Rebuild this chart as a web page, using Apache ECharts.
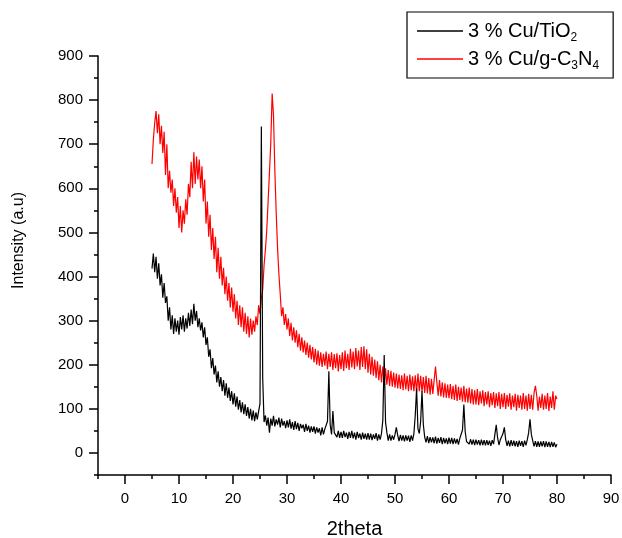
<!DOCTYPE html>
<html>
<head>
<meta charset="utf-8">
<script src="https://cdn.jsdelivr.net/npm/echarts@6/dist/echarts.min.js"></script>
<style>html,body{margin:0;padding:0;background:#fff;}#chart{width:622px;height:538px;}</style>
</head>
<body>
<div id="chart"></div>
<script>
// 2theta sampling of the scans (degrees)
const twoThetaStart = 5;
const twoThetaStep = 0.25;

// 3 % Cu/TiO2 intensities (a.u), one value per step from 5 to 80
const cuTiO2 = [
  418, 452, 410, 445, 395, 430, 380, 405, 352, 385, 340, 355, 300, 330, 280, 312, 270, 305, 275, 300,
  268, 308, 280, 312, 275, 305, 282, 318, 288, 325, 292, 338, 300, 322, 285, 305, 278, 296, 262, 285,
  245, 262, 218, 235, 192, 215, 178, 198, 160, 185, 150, 172, 140, 165, 130, 158, 125, 148, 118, 140,
  110, 135, 105, 128, 98, 120, 92, 115, 88, 110, 84, 104, 78, 100, 74, 96, 72, 92, 76, 95,
  112, 740, 170, 70, 85, 62, 80, 46, 78, 62, 84, 60, 76, 64, 80, 58, 78, 62, 72, 56,
  74, 58, 76, 55, 70, 52, 72, 54, 68, 50, 66, 56, 64, 48, 66, 50, 62, 46, 60, 48,
  60, 44, 58, 46, 56, 40, 58, 42, 54, 58, 72, 185, 64, 42, 95, 46, 48, 36, 50, 34,
  48, 34, 50, 36, 46, 32, 48, 34, 50, 33, 46, 30, 48, 34, 44, 30, 46, 32, 44, 30,
  45, 30, 44, 29, 42, 32, 45, 28, 42, 30, 44, 75, 222, 70, 46, 28, 42, 28, 40, 30,
  42, 58, 40, 27, 41, 28, 40, 26, 40, 28, 39, 25, 40, 28, 44, 85, 146, 55, 44, 72,
  140, 64, 36, 24, 38, 22, 36, 24, 35, 22, 37, 21, 34, 23, 36, 20, 34, 22, 33, 20,
  35, 21, 34, 20, 33, 21, 32, 19, 33, 36, 52, 110, 48, 26, 30, 20, 31, 19, 30, 18,
  30, 19, 29, 17, 30, 18, 29, 17, 29, 18, 28, 16, 29, 20, 42, 64, 34, 18, 30, 32,
  44, 58, 30, 16, 28, 15, 29, 16, 28, 15, 27, 14, 28, 16, 27, 14, 28, 17, 30, 46,
  76, 42, 28, 15, 27, 14, 26, 14, 26, 15, 27, 13, 26, 14, 25, 13, 25, 14, 24, 13,
  20
];

// 3 % Cu/g-C3N4 intensities (a.u), one value per step from 5 to 80
const cuC3N4 = [
  655, 710, 748, 775, 725, 768, 700, 742, 680, 728, 630, 700, 600, 640, 590, 620, 560, 600, 545, 580,
  510, 560, 500, 550, 520, 575, 540, 610, 580, 660, 600, 682, 610, 672, 620, 665, 600, 650, 570, 620,
  520, 570, 490, 540, 460, 510, 440, 490, 410, 465, 395, 445, 380, 420, 360, 400, 345, 385, 330, 375,
  320, 360, 305, 345, 290, 335, 285, 330, 275, 318, 270, 310, 262, 305, 268, 300, 275, 310, 290, 335,
  315, 350, 370, 425, 460, 505, 570, 635, 705, 815, 765, 640, 545, 465, 405, 360, 310, 330, 290, 315,
  280, 305, 265, 295, 255, 285, 250, 278, 240, 270, 232, 262, 228, 255, 222, 250, 216, 245, 212, 240,
  205, 236, 200, 232, 198, 228, 195, 225, 198, 230, 190, 225, 195, 228, 188, 224, 192, 226, 185, 222,
  190, 228, 186, 232, 192, 225, 188, 236, 194, 230, 190, 238, 196, 232, 188, 240, 195, 242, 190, 235,
  182, 225, 178, 218, 175, 212, 170, 208, 165, 200, 160, 196, 158, 192, 155, 188, 152, 186, 150, 182,
  148, 180, 146, 178, 145, 176, 142, 180, 144, 175, 140, 178, 142, 174, 140, 176, 138, 180, 140, 175,
  138, 172, 136, 175, 135, 170, 132, 168, 134, 165, 196, 160, 130, 165, 128, 160, 126, 158, 125, 155,
  124, 156, 122, 152, 120, 155, 118, 150, 120, 148, 116, 152, 115, 146, 114, 148, 112, 145, 110, 142,
  110, 145, 108, 140, 112, 142, 106, 138, 110, 140, 104, 136, 108, 138, 102, 135, 106, 138, 100, 134,
  104, 136, 100, 132, 105, 135, 98, 130, 104, 134, 96, 132, 102, 130, 98, 136, 100, 130, 96, 134,
  100, 132, 98, 136, 152, 130, 96, 128, 102, 134, 98, 130, 100, 136, 95, 128, 102, 140, 98, 130,
  122
];

const xTickLabels = [0, 10, 20, 30, 40, 50, 60, 70, 80, 90];
const yTickLabels = [0, 100, 200, 300, 400, 500, 600, 700, 800, 900];
const seriesNames = ['3 % Cu/TiO2', '3 % Cu/g-C3N4'];

function pairs(vals) {
  return vals.map((v, i) => [twoThetaStart + i * twoThetaStep, v]);
}

const FONT = "'Liberation Sans', Arial, sans-serif";
const chart = echarts.init(document.getElementById('chart'), null, {renderer: 'canvas'});

chart.setOption({
  animation: false,
  backgroundColor: '#fff',
  textStyle: {fontFamily: FONT, color: '#000'},
  grid: {left: 98, right: 11, top: 56, bottom: 63, containLabel: false, outerBoundsMode: 'none'},
  legend: {
    orient: 'vertical',
    left: 407, top: 12,
    padding: [9, 14, 6, 10],
    borderColor: '#000', borderWidth: 1.2,
    icon: 'rect',
    itemWidth: 46, itemHeight: 1.4, itemGap: 5,
    data: seriesNames,
    textStyle: {
      fontFamily: FONT, fontSize: 20, color: '#000',
      rich: {
        sub: {fontFamily: FONT, fontSize: 12, color: '#000', padding: [14, 0, 0, 0]}
      }
    },
    formatter: function (name) {
      if (name === seriesNames[0]) return '3 % Cu/TiO{sub|2}';
      return '3 % Cu/g-C{sub|3}N{sub|4}';
    }
  },
  xAxis: [{
    type: 'value', min: -5, max: 90,
    name: '2theta', nameLocation: 'middle', nameGap: 44,
    nameTextStyle: {fontFamily: FONT, fontSize: 20, color: '#000'},
    axisLine: {show: true, onZero: false, lineStyle: {color: '#000', width: 1.5}},
    axisTick: {show: true, length: 9, customValues: xTickLabels, lineStyle: {color: '#000', width: 1.5}},
    axisLabel: {customValues: xTickLabels, margin: 16, fontFamily: FONT, fontSize: 15, color: '#000'},
    splitLine: {show: false}
  }, {
    type: 'value', min: -5, max: 90, interval: 5, position: 'bottom',
    axisLine: {show: false, onZero: false},
    axisTick: {show: true, length: 4, lineStyle: {color: '#000', width: 1.5}},
    axisLabel: {show: false},
    splitLine: {show: false}
  }],
  yAxis: [{
    type: 'value', min: -50, max: 900,
    name: 'Intensity (a.u)', nameLocation: 'middle', nameGap: 71,
    nameTextStyle: {fontFamily: FONT, fontSize: 16, color: '#000', padding: [0, 0, 0, 50]},
    axisLine: {show: true, onZero: false, lineStyle: {color: '#000', width: 1.5}},
    axisTick: {show: true, length: 9, customValues: yTickLabels, lineStyle: {color: '#000', width: 1.5}},
    axisLabel: {customValues: yTickLabels, margin: 15, fontFamily: FONT, fontSize: 15, color: '#000'},
    splitLine: {show: false}
  }, {
    type: 'value', min: -50, max: 900, interval: 50, position: 'left',
    axisLine: {show: false, onZero: false},
    axisTick: {show: true, length: 4, lineStyle: {color: '#000', width: 1.5}},
    axisLabel: {show: false},
    splitLine: {show: false}
  }],
  series: [{
    name: seriesNames[0], type: 'line', xAxisIndex: 0, yAxisIndex: 0,
    data: pairs(cuTiO2), symbol: 'none', showSymbol: false,
    lineStyle: {color: '#000', width: 1.2}, itemStyle: {color: '#000'}, z: 3
  }, {
    name: seriesNames[1], type: 'line', xAxisIndex: 0, yAxisIndex: 0,
    data: pairs(cuC3N4), symbol: 'none', showSymbol: false,
    lineStyle: {color: '#ff0000', width: 1.2}, itemStyle: {color: '#ff0000'}, z: 2
  }]
});
</script>
</body>
</html>
